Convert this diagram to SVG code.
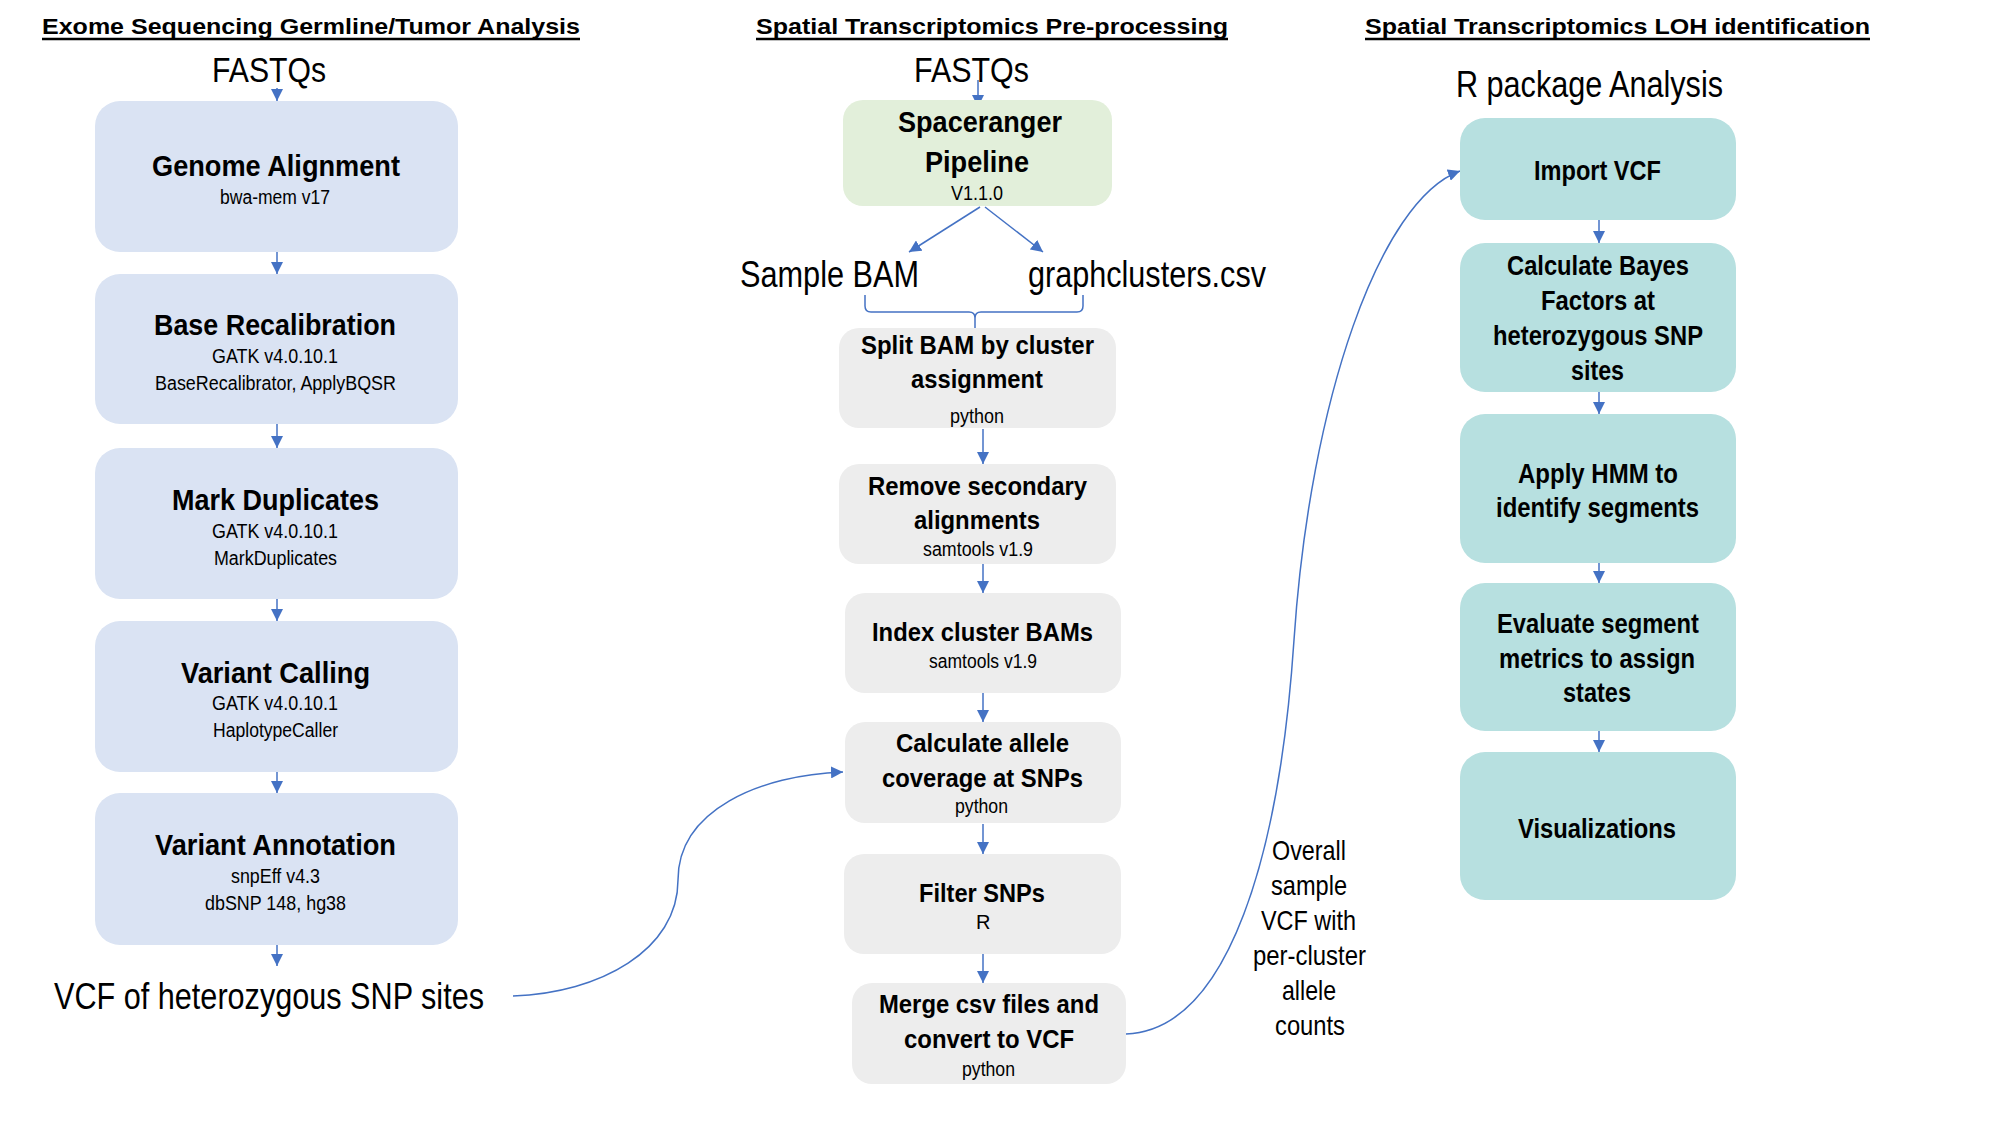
<svg xmlns="http://www.w3.org/2000/svg" width="2000" height="1125" viewBox="0 0 2000 1125">
<style>
text{font-family:"Liberation Sans",Arial,sans-serif;fill:#000}
.b{font-weight:bold}
.h{font-weight:bold;font-size:22px}
.s{font-size:20px}
.L{font-size:30px;font-weight:bold}
.M{font-size:26px;font-weight:bold}
.R{font-size:27px;font-weight:bold}
.big{font-size:36px}
.ov{font-size:28px}
.blue{fill:#dae3f3}
.green{fill:#e2efda}
.grey{fill:#ededed}
.teal{fill:#b7e0e0}
.con{stroke:#4472c4;stroke-width:1.5;fill:none}
.ul{stroke:#000;stroke-width:2.5}
</style>
<defs>
<marker id="ah" viewBox="0 0 12 12" refX="12" refY="6" markerWidth="12" markerHeight="12" markerUnits="userSpaceOnUse" orient="auto"><path d="M0,0 L12,6 L0,12 z" fill="#4472c4"/></marker>
</defs>
<rect width="2000" height="1125" fill="#fff"/>

<g id="titles">
<text class="h" x="42" y="34" textLength="538" lengthAdjust="spacingAndGlyphs">Exome Sequencing Germline/Tumor Analysis</text>
<line class="ul" x1="42" y1="39" x2="580" y2="39"/>
<text class="h" x="756" y="34" textLength="472" lengthAdjust="spacingAndGlyphs">Spatial Transcriptomics Pre-processing</text>
<line class="ul" x1="756" y1="39" x2="1228" y2="39"/>
<text class="h" x="1365" y="34" textLength="505" lengthAdjust="spacingAndGlyphs">Spatial Transcriptomics LOH identification</text>
<line class="ul" x1="1365" y1="39" x2="1870" y2="39"/>
</g>

<g id="connectors">
<line class="con" x1="277" y1="88" x2="277" y2="101" marker-end="url(#ah)"/>
<line class="con" x1="277" y1="252" x2="277" y2="274" marker-end="url(#ah)"/>
<line class="con" x1="277" y1="424" x2="277" y2="448" marker-end="url(#ah)"/>
<line class="con" x1="277" y1="599" x2="277" y2="621" marker-end="url(#ah)"/>
<line class="con" x1="277" y1="772" x2="277" y2="793" marker-end="url(#ah)"/>
<line class="con" x1="277" y1="945" x2="277" y2="966" marker-end="url(#ah)"/>
<line class="con" x1="978" y1="80" x2="978" y2="107" marker-end="url(#ah)"/>
<line class="con" x1="980" y1="207" x2="909" y2="252" marker-end="url(#ah)"/>
<line class="con" x1="985" y1="207" x2="1043" y2="252" marker-end="url(#ah)"/>
<path class="con" d="M865,295 V306 Q865,312 871,312 H969 Q975,312 975,318 V328 M975,318 Q975,312 981,312 H1077 Q1083,312 1083,306 V295"/>
<line class="con" x1="983" y1="429" x2="983" y2="464" marker-end="url(#ah)"/>
<line class="con" x1="983" y1="564" x2="983" y2="593" marker-end="url(#ah)"/>
<line class="con" x1="983" y1="693" x2="983" y2="722" marker-end="url(#ah)"/>
<line class="con" x1="983" y1="824" x2="983" y2="854" marker-end="url(#ah)"/>
<line class="con" x1="983" y1="952" x2="983" y2="983" marker-end="url(#ah)"/>
<line class="con" x1="1599" y1="220" x2="1599" y2="243" marker-end="url(#ah)"/>
<line class="con" x1="1599" y1="392" x2="1599" y2="414" marker-end="url(#ah)"/>
<line class="con" x1="1599" y1="563" x2="1599" y2="583" marker-end="url(#ah)"/>
<line class="con" x1="1599" y1="731" x2="1599" y2="752" marker-end="url(#ah)"/>
<path class="con" d="M513,996 C600,993 678,950 678,880 C678,810 760,775 843,772" marker-end="url(#ah)"/>
<path class="con" d="M1126,1034 C1230,1030 1280,850 1294,640 C1310,400 1380,200 1460,171" marker-end="url(#ah)"/>
</g>

<g id="exome-fastqs"><text x="212" y="82" font-size="35" textLength="114" lengthAdjust="spacingAndGlyphs">FASTQs</text></g>

<g id="genome-alignment">
<rect class="blue" x="95" y="101" width="363" height="151" rx="25"/>
<text class="L" x="152" y="176" textLength="248" lengthAdjust="spacingAndGlyphs">Genome Alignment</text>
<text class="s" x="220" y="204" textLength="110" lengthAdjust="spacingAndGlyphs">bwa-mem v17</text>
</g>
<g id="base-recalibration">
<rect class="blue" x="95" y="274" width="363" height="150" rx="25"/>
<text class="L" x="154" y="335" textLength="242" lengthAdjust="spacingAndGlyphs">Base Recalibration</text>
<text class="s" x="212" y="363" textLength="126" lengthAdjust="spacingAndGlyphs">GATK v4.0.10.1</text>
<text class="s" x="155" y="390" textLength="241" lengthAdjust="spacingAndGlyphs">BaseRecalibrator, ApplyBQSR</text>
</g>
<g id="mark-duplicates">
<rect class="blue" x="95" y="448" width="363" height="151" rx="25"/>
<text class="L" x="172" y="510" textLength="207" lengthAdjust="spacingAndGlyphs">Mark Duplicates</text>
<text class="s" x="212" y="538" textLength="126" lengthAdjust="spacingAndGlyphs">GATK v4.0.10.1</text>
<text class="s" x="214" y="565" textLength="123" lengthAdjust="spacingAndGlyphs">MarkDuplicates</text>
</g>
<g id="variant-calling">
<rect class="blue" x="95" y="621" width="363" height="151" rx="25"/>
<text class="L" x="181" y="683" textLength="189" lengthAdjust="spacingAndGlyphs">Variant Calling</text>
<text class="s" x="212" y="710" textLength="126" lengthAdjust="spacingAndGlyphs">GATK v4.0.10.1</text>
<text class="s" x="213" y="737" textLength="125" lengthAdjust="spacingAndGlyphs">HaplotypeCaller</text>
</g>
<g id="variant-annotation">
<rect class="blue" x="95" y="793" width="363" height="152" rx="25"/>
<text class="L" x="155" y="855" textLength="241" lengthAdjust="spacingAndGlyphs">Variant Annotation</text>
<text class="s" x="231" y="883" textLength="89" lengthAdjust="spacingAndGlyphs">snpEff v4.3</text>
<text class="s" x="205" y="910" textLength="141" lengthAdjust="spacingAndGlyphs">dbSNP 148, hg38</text>
</g>
<g id="vcf-het"><text class="big" x="54" y="1009" textLength="430" lengthAdjust="spacingAndGlyphs">VCF of heterozygous SNP sites</text></g>

<g id="st-fastqs"><text x="914" y="82" font-size="35" textLength="115" lengthAdjust="spacingAndGlyphs">FASTQs</text></g>
<g id="spaceranger">
<rect class="green" x="843" y="100" width="269" height="106" rx="20"/>
<text class="L" x="898" y="132" textLength="164" lengthAdjust="spacingAndGlyphs">Spaceranger</text>
<text class="L" x="925" y="172" textLength="104" lengthAdjust="spacingAndGlyphs">Pipeline</text>
<text class="s" x="951" y="200" textLength="52" lengthAdjust="spacingAndGlyphs">V1.1.0</text>
</g>
<g id="sample-bam"><text class="big" x="740" y="287" textLength="179" lengthAdjust="spacingAndGlyphs">Sample BAM</text></g>
<g id="graphclusters"><text class="big" x="1028" y="287" textLength="238" lengthAdjust="spacingAndGlyphs">graphclusters.csv</text></g>
<g id="split-bam">
<rect class="grey" x="839" y="328" width="277" height="100" rx="20"/>
<text class="M" x="861" y="354" textLength="233" lengthAdjust="spacingAndGlyphs">Split BAM by cluster</text>
<text class="M" x="911" y="388" textLength="132" lengthAdjust="spacingAndGlyphs">assignment</text>
<text class="s" x="950" y="423" textLength="54" lengthAdjust="spacingAndGlyphs">python</text>
</g>
<g id="remove-secondary">
<rect class="grey" x="839" y="464" width="277" height="100" rx="20"/>
<text class="M" x="868" y="495" textLength="219" lengthAdjust="spacingAndGlyphs">Remove secondary</text>
<text class="M" x="914" y="529" textLength="126" lengthAdjust="spacingAndGlyphs">alignments</text>
<text class="s" x="923" y="556" textLength="110" lengthAdjust="spacingAndGlyphs">samtools v1.9</text>
</g>
<g id="index-bams">
<rect class="grey" x="845" y="593" width="276" height="100" rx="20"/>
<text class="M" x="872" y="641" textLength="221" lengthAdjust="spacingAndGlyphs">Index cluster BAMs</text>
<text class="s" x="929" y="668" textLength="108" lengthAdjust="spacingAndGlyphs">samtools v1.9</text>
</g>
<g id="allele-coverage">
<rect class="grey" x="845" y="722" width="276" height="101" rx="20"/>
<text class="M" x="896" y="752" textLength="173" lengthAdjust="spacingAndGlyphs">Calculate allele</text>
<text class="M" x="882" y="787" textLength="201" lengthAdjust="spacingAndGlyphs">coverage at SNPs</text>
<text class="s" x="955" y="813" textLength="53" lengthAdjust="spacingAndGlyphs">python</text>
</g>
<g id="filter-snps">
<rect class="grey" x="844" y="854" width="277" height="100" rx="20"/>
<text class="M" x="919" y="902" textLength="126" lengthAdjust="spacingAndGlyphs">Filter SNPs</text>
<text class="s" x="976" y="929">R</text>
</g>
<g id="merge-csv">
<rect class="grey" x="852" y="983" width="274" height="101" rx="20"/>
<text class="M" x="879" y="1013" textLength="220" lengthAdjust="spacingAndGlyphs">Merge csv files and</text>
<text class="M" x="904" y="1048" textLength="170" lengthAdjust="spacingAndGlyphs">convert to VCF</text>
<text class="s" x="962" y="1076" textLength="53" lengthAdjust="spacingAndGlyphs">python</text>
</g>
<g id="overall-label">
<text class="ov" x="1272" y="860" textLength="74" lengthAdjust="spacingAndGlyphs">Overall</text>
<text class="ov" x="1271" y="895" textLength="76" lengthAdjust="spacingAndGlyphs">sample</text>
<text class="ov" x="1261" y="930" textLength="95" lengthAdjust="spacingAndGlyphs">VCF with</text>
<text class="ov" x="1253" y="965" textLength="113" lengthAdjust="spacingAndGlyphs">per-cluster</text>
<text class="ov" x="1282" y="1000" textLength="54" lengthAdjust="spacingAndGlyphs">allele</text>
<text class="ov" x="1275" y="1035" textLength="70" lengthAdjust="spacingAndGlyphs">counts</text>
</g>

<g id="r-package"><text x="1456" y="97" font-size="37" textLength="267" lengthAdjust="spacingAndGlyphs">R package Analysis</text></g>
<g id="import-vcf">
<rect class="teal" x="1460" y="118" width="276" height="102" rx="25"/>
<text class="R" x="1534" y="180" textLength="127" lengthAdjust="spacingAndGlyphs">Import VCF</text>
</g>
<g id="bayes-factors">
<rect class="teal" x="1460" y="243" width="276" height="149" rx="25"/>
<text class="R" x="1507" y="275" textLength="182" lengthAdjust="spacingAndGlyphs">Calculate Bayes</text>
<text class="R" x="1541" y="310" textLength="114" lengthAdjust="spacingAndGlyphs">Factors at</text>
<text class="R" x="1493" y="345" textLength="210" lengthAdjust="spacingAndGlyphs">heterozygous SNP</text>
<text class="R" x="1571" y="380" textLength="53" lengthAdjust="spacingAndGlyphs">sites</text>
</g>
<g id="apply-hmm">
<rect class="teal" x="1460" y="414" width="276" height="149" rx="25"/>
<text class="R" x="1518" y="483" textLength="160" lengthAdjust="spacingAndGlyphs">Apply HMM to</text>
<text class="R" x="1496" y="517" textLength="203" lengthAdjust="spacingAndGlyphs">identify segments</text>
</g>
<g id="evaluate-segment">
<rect class="teal" x="1460" y="583" width="276" height="148" rx="25"/>
<text class="R" x="1497" y="633" textLength="202" lengthAdjust="spacingAndGlyphs">Evaluate segment</text>
<text class="R" x="1499" y="668" textLength="196" lengthAdjust="spacingAndGlyphs">metrics to assign</text>
<text class="R" x="1563" y="702" textLength="68" lengthAdjust="spacingAndGlyphs">states</text>
</g>
<g id="visualizations">
<rect class="teal" x="1460" y="752" width="276" height="148" rx="25"/>
<text class="R" x="1518" y="838" textLength="158" lengthAdjust="spacingAndGlyphs">Visualizations</text>
</g>
</svg>
